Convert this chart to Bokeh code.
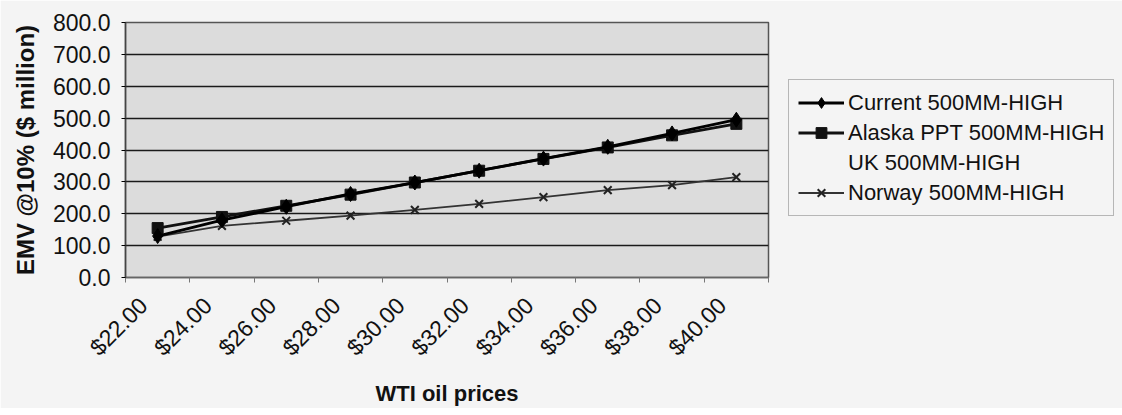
import math
from bokeh.plotting import figure
from bokeh.models import Legend, LegendItem, FixedTicker, NumeralTickFormatter, Range1d, Title
from bokeh.embed import file_html
from bokeh.resources import INLINE

# ---- data ----
prices = [22, 24, 26, 28, 30, 32, 34, 36, 38, 40]
current = [130, 180, 222, 262, 298, 335, 373, 410, 452, 495]
alaska = [155, 190, 225, 260, 298, 335, 372, 408, 446, 482]
uk = []  # series listed in legend but not visible in the chart
norway = [128, 162, 178, 194, 212, 231, 252, 274, 290, 315]
y_ticks = [0, 100, 200, 300, 400, 500, 600, 700, 800]
price_labels = ["$%.2f" % v for v in prices]
series_names = ["Current 500MM-HIGH", "Alaska PPT 500MM-HIGH", "UK 500MM-HIGH", "Norway 500MM-HIGH"]

FONT = "Liberation Sans"
LABEL_SHIFT = 0.44  # rotated labels sit slightly left of their category (Excel style)

p = figure(frame_width=643, frame_height=255, output_backend="svg", toolbar_location=None,
           x_range=Range1d(prices[0] - 1, prices[-1] + 1), y_range=Range1d(y_ticks[0], y_ticks[-1]),
           min_border_left=125, min_border_right=346, min_border_top=22, min_border_bottom=122)

p.background_fill_color = "#dcdcdc"
p.border_fill_color = "#f4f4f4"
p.outline_line_color = "#555555"
p.outline_line_width = 1.5

# grid
p.xgrid.grid_line_color = None
p.ygrid.grid_line_color = "#1a1a1a"
p.ygrid.grid_line_width = 1.6
p.ygrid.ticker = FixedTicker(ticks=y_ticks)

# y axis
p.yaxis.ticker = FixedTicker(ticks=y_ticks)
p.yaxis.formatter = NumeralTickFormatter(format="0.0")
p.yaxis.major_label_text_font = FONT
p.yaxis.major_label_text_font_size = "23px"
p.yaxis.major_label_text_color = "#111111"
p.yaxis.major_label_standoff = 11
p.yaxis.major_tick_out = 4
p.yaxis.major_tick_in = 0
p.yaxis.minor_tick_line_color = None
p.yaxis.axis_line_color = "#444444"
p.yaxis.axis_line_width = 1.5

ytitle = Title(text="EMV @10% ($ million)", align="center", offset=11, standoff=17,
               vertical_align="top",
               text_font=FONT, text_font_style="bold", text_font_size="24px", text_color="#111111")
p.add_layout(ytitle, "left")

# x axis
label_ticks = [round(v - LABEL_SHIFT, 2) for v in prices]
minor = [v - 1 for v in prices] + [prices[-1] + 1]
p.xaxis.ticker = FixedTicker(ticks=label_ticks, minor_ticks=minor)
p.xaxis.major_label_overrides = {t: s for t, s in zip(label_ticks, price_labels)}
p.xaxis.major_label_orientation = math.pi / 4
p.xaxis.major_label_text_font = FONT
p.xaxis.major_label_text_font_size = "23px"
p.xaxis.major_label_text_color = "#111111"
p.xaxis.major_label_standoff = 19
p.xaxis.major_tick_line_color = None
p.xaxis.major_tick_out = 5
p.xaxis.minor_tick_out = 5
p.xaxis.minor_tick_in = 0
p.xaxis.minor_tick_line_color = "#777777"
p.xaxis.axis_line_color = "#666666"
p.xaxis.axis_line_width = 1.5
p.xaxis.axis_label = "WTI oil prices"
p.xaxis.axis_label_text_font = FONT
p.xaxis.axis_label_text_font_style = "bold"
p.xaxis.axis_label_text_font_size = "22px"
p.xaxis.axis_label_text_color = "#111111"
p.xaxis.axis_label_standoff = 8

# series
r_norway_l = p.line(prices, norway, line_color="#333333", line_width=1.8)
r_norway_m = p.scatter(prices, norway, marker="x", size=11, line_color="#222222", line_width=2)
r_alaska_l = p.line(prices, alaska, line_color="#111111", line_width=2.8)
r_alaska_m = p.scatter(prices, alaska, marker="square", size=11, fill_color="#111111", line_color="#111111")
r_cur_l = p.line(prices, current, line_color="#000000", line_width=2.8)
r_cur_m = p.scatter(prices, current, marker="diamond", size=15, fill_color="#000000", line_color="#000000")
r_uk = p.line(uk, uk, line_alpha=0)

legend = Legend(items=[
    LegendItem(label=series_names[0], renderers=[r_cur_l, r_cur_m]),
    LegendItem(label=series_names[1], renderers=[r_alaska_l, r_alaska_m]),
    LegendItem(label=series_names[2], renderers=[r_uk]),
    LegendItem(label=series_names[3], renderers=[r_norway_l, r_norway_m]),
], location=(20, 61))
legend.label_text_font = FONT
legend.label_text_font_size = "22px"
legend.label_text_color = "#111111"
legend.glyph_width = 46
legend.glyph_height = 27
legend.label_height = 27
legend.label_standoff = 4
legend.spacing = 3
legend.padding = 9
legend.margin = 0
legend.border_line_color = "#777777"
legend.border_line_width = 1.2
legend.background_fill_color = "#f4f4f4"
legend.background_fill_alpha = 1.0
p.add_layout(legend, "right")

open("out.html", "w").write(file_html(p, INLINE))
